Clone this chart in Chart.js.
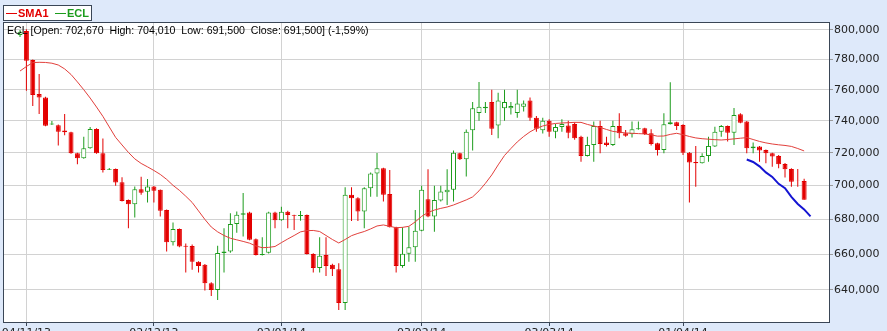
<!DOCTYPE html>
<html>
<head>
<meta charset="utf-8">
<script src="https://cdn.jsdelivr.net/npm/chart.js@4.4.0/dist/chart.umd.min.js"></script>
<style>
    html, body { margin: 0; padding: 0; background: #dee9fa; overflow: hidden; }
    #caixa { width: 887px; height: 345px; position: relative; }
</style>
</head>
<body>
<div id="caixa"><canvas id="grafico"></canvas></div>
<script>
const ticker = 'ECL';

const opens = [796.6, 799.3, 779.7, 757.2, 755.0, 737.6, 737.1, 733.8, 732.8, 719.7,
    716.6, 722.8, 734.8, 719.7, 709.6, 710.0, 702.0, 691.4, 688.8, 697.8,
    696.2, 699.4, 697.4, 685.5, 666.7, 674.4, 664.7, 664.6, 655.7, 653.9,
    643.7, 640.0, 660.6, 661.5, 677.3, 682.6, 684.0, 668.5, 659.5, 660.7,
    684.0, 679.5, 684.4, 682.5, 681.9, 682.5, 660.0, 652.1, 659.5, 653.9,
    651.4, 632.8, 694.4, 692.4, 684.5, 698.4, 707.2, 710.5, 694.9, 675.4,
    653.3, 660.2, 663.9, 673.4, 691.8, 681.6, 691.0, 696.0, 697.4, 719.7,
    716.0, 734.0, 745.0, 748.0, 752.0, 737.0, 748.0, 748.0, 745.0, 749.0,
    753.0, 742.0, 734.0, 740.0, 733.0, 736.0, 737.0, 738.0, 730.0, 718.0,
    724.8, 736.7, 726.3, 724.8, 736.7, 732.1, 731.5, 734.6, 735.3, 732.1,
    725.9, 721.7, 737.8, 739.1, 737.4, 720.0, 714.3, 713.5, 718.0, 723.8,
    733.1, 736.7, 732.5, 744.2, 739.5, 722.8, 723.8, 721.7, 719.7, 718.0,
    713.1, 710.0, 702.8, 702.67];
const highs = [800.0, 800.5, 780.0, 770.3, 755.5, 739.8, 737.6, 744.3, 733.1, 720.0,
    730.0, 736.0, 735.2, 728.9, 710.6, 710.3, 705.0, 691.7, 699.4, 705.3,
    703.9, 699.7, 697.6, 685.8, 678.1, 674.7, 666.0, 665.5, 656.0, 654.4,
    644.2, 664.7, 674.8, 683.6, 684.5, 695.5, 684.4, 668.8, 669.6, 684.4,
    684.4, 687.4, 685.0, 682.7, 684.9, 682.8, 660.5, 669.6, 669.6, 654.5,
    654.8, 698.9, 698.9, 693.0, 699.0, 707.8, 719.8, 710.8, 709.4, 675.7,
    675.4, 675.7, 685.5, 699.8, 709.8, 699.8, 699.8, 709.8, 721.3, 720.0,
    734.5, 752.0, 765.0, 752.0, 760.0, 758.0, 760.0, 752.0, 760.0, 753.0,
    755.0, 743.0, 742.0, 741.0, 738.0, 741.0, 740.0, 739.0, 730.5, 730.0,
    739.5, 740.1, 730.0, 740.1, 744.8, 734.2, 739.5, 739.5, 735.6, 734.6,
    726.2, 744.8, 764.9, 739.4, 737.8, 720.4, 724.2, 719.7, 730.0, 736.3,
    737.4, 737.0, 748.1, 744.8, 739.8, 726.3, 724.1, 722.0, 720.0, 718.6,
    713.6, 710.4, 710.0, 704.01];
const lows = [795.2, 759.4, 749.5, 744.3, 736.5, 737.3, 724.4, 730.9, 719.4, 712.9,
    716.3, 722.5, 719.4, 707.8, 709.4, 699.9, 690.5, 674.8, 681.1, 694.4,
    689.8, 689.8, 681.6, 661.4, 664.8, 663.9, 649.6, 651.1, 649.6, 639.6,
    636.7, 634.5, 649.6, 660.8, 672.2, 670.0, 667.8, 659.2, 659.2, 660.3,
    674.8, 679.2, 674.8, 673.8, 679.2, 659.7, 649.6, 649.6, 647.7, 647.7,
    629.1, 629.1, 679.0, 679.0, 674.8, 693.3, 693.3, 690.4, 675.2, 649.6,
    652.3, 655.7, 655.7, 673.1, 681.2, 672.7, 690.4, 688.4, 690.4, 715.5,
    705.4, 721.3, 740.0, 745.0, 731.0, 729.0, 740.0, 744.0, 742.0, 746.0,
    740.0, 733.0, 732.0, 730.0, 729.0, 733.0, 729.0, 728.0, 714.5, 717.6,
    714.5, 719.7, 723.8, 724.2, 729.0, 730.0, 729.4, 734.4, 731.1, 724.4,
    718.2, 719.7, 737.6, 734.2, 718.6, 689.8, 699.3, 713.3, 714.5, 723.5,
    730.0, 726.9, 724.8, 738.5, 719.7, 719.7, 714.5, 713.5, 711.4, 710.4,
    704.8, 699.3, 699.3, 691.5];
const closes = [798.8, 779.2, 756.6, 755.0, 736.9, 738.3, 733.0, 732.8, 719.7, 716.6,
    722.8, 734.8, 719.7, 709.4, 710.0, 701.8, 690.8, 688.8, 697.8, 695.7,
    699.4, 696.9, 685.0, 666.7, 674.4, 664.3, 664.2, 655.7, 653.3, 643.7,
    640.0, 660.6, 661.5, 677.3, 682.6, 683.6, 668.1, 659.5, 660.1, 684.0,
    679.5, 684.4, 682.5, 682.0, 682.5, 660.0, 652.1, 659.1, 653.3, 651.4,
    632.8, 694.4, 692.4, 684.5, 698.4, 707.2, 710.5, 694.4, 675.4, 653.3,
    660.2, 663.9, 673.4, 697.4, 681.6, 691.4, 696.4, 697.4, 720.0, 716.0,
    733.1, 748.0, 749.0, 749.0, 735.0, 753.0, 752.0, 749.5, 751.0, 751.0,
    742.0, 735.0, 740.0, 733.0, 736.0, 738.0, 732.5, 729.0, 718.0, 724.8,
    736.7, 725.4, 724.8, 736.7, 732.1, 730.6, 734.6, 735.3, 731.7, 725.4,
    721.7, 737.8, 739.1, 736.7, 720.0, 713.9, 713.5, 718.0, 724.2, 733.1,
    736.7, 732.5, 743.7, 738.8, 722.8, 723.8, 721.3, 719.7, 717.6, 712.9,
    709.9, 702.3, 702.67, 691.5];
const sma1 = [772.3, 775.3, 777.9, 778.1, 778.0, 777.5, 776.3, 773.7, 770.0, 765.1,
    760.0, 754.6, 748.8, 742.8, 736.1, 729.5, 724.8, 720.2, 716.2, 713.4,
    711.3, 709.1, 706.7, 703.7, 700.1, 697.1, 693.6, 689.9, 684.9, 679.9,
    675.5, 672.7, 670.6, 669.0, 668.1, 667.2, 666.2, 664.6, 663.6, 663.8,
    664.3, 666.5, 668.6, 670.6, 672.7, 673.4, 673.5, 672.9, 670.6, 668.3,
    666.3, 668.3, 670.5, 671.8, 672.9, 674.4, 676.1, 676.7, 675.9, 675.1,
    675.3, 675.9, 678.5, 681.7, 684.0, 685.4, 686.4, 687.2, 688.4, 689.9,
    691.4, 693.2, 696.8, 701.3, 706.4, 712.5, 718.3, 722.6, 726.7, 730.1,
    733.0, 735.2, 736.7, 737.7, 738.3, 738.6, 738.8, 739.0, 739.0, 737.7,
    736.7, 735.8, 734.5, 733.3, 732.8, 732.3, 732.1, 731.9, 731.7, 731.1,
    730.3, 730.4, 731.4, 732.1, 731.2, 730.1, 729.2, 728.7, 728.4, 728.1,
    727.9, 728.2, 728.6, 729.0, 729.4, 728.2, 727.0, 726.1, 725.4, 724.9,
    724.5, 723.9, 722.6, 721.1];
// projection, starts at candle 114
const projStart = 114;
const projection = [715.8, 714.3, 711.6, 707.9, 705.2, 701.0, 698.4, 693.2, 689.0, 685.8, 681.7];

const tickIdx = [1, 21, 41, 63, 83, 104];
const tickText = ['04/11/13', '02/12/13', '02/01/14', '03/02/14', '03/03/14', '01/04/14'];
const yTicks = [640, 660, 680, 700, 720, 740, 760, 780, 800];

const RED = '#e30000';
const GREEN = '#1c9c1c';

const fmt = (v, d) => v.toFixed(d).replace('.', ',');

const up = opens.map((o, i) => closes[i] >= o);
const wicks = lows.map((l, i) => ({ x: i, y: [l, highs[i]] }));
const bodies = opens.map((o, i) => ({ x: i, y: [o, closes[i]] }));
const smaPts = sma1.map((v, i) => ({ x: i, y: v }));
const projPts = projection.map((v, i) => ({ x: projStart + i, y: v }));

const last = opens.length - 1;
const change = (closes[last] / closes[last - 1] - 1) * 100;
const header = ticker + ' [Open: ' + fmt(opens[last], 3) + '  High: ' + fmt(highs[last], 3) +
    '  Low: ' + fmt(lows[last], 3) + '  Close: ' + fmt(closes[last], 3) + '] (' + fmt(change, 2) + '%)';

const moldura = {
    id: 'moldura',
    beforeDraw(chart) {
        const { ctx, chartArea: a } = chart;
        ctx.save();
        ctx.fillStyle = '#ffffff';
        ctx.fillRect(a.left, a.top, a.right - a.left, a.bottom - a.top);
        ctx.restore();
    },
    afterDraw(chart) {
        const { ctx, chartArea: a } = chart;
        ctx.save();
        ctx.strokeStyle = '#3a4656';
        ctx.lineWidth = 1;
        ctx.strokeRect(a.left + 0.5, a.top + 0.5, a.right - a.left, a.bottom - a.top);

        ctx.fillStyle = '#000000';
        ctx.font = '10.6px "Liberation Sans", Arial, sans-serif';
        ctx.textBaseline = 'middle';
        ctx.fillText(header, a.left + 4, a.top + 9);

        // legend box
        ctx.fillStyle = '#ffffff';
        ctx.fillRect(3, 5, 88, 15);
        ctx.strokeStyle = '#3a4656';
        ctx.strokeRect(3.5, 5.5, 88, 15);
        ctx.font = 'bold 11px "Liberation Sans", Arial, sans-serif';
        ctx.lineWidth = 1;
        ctx.strokeStyle = RED;
        ctx.beginPath(); ctx.moveTo(6, 13.5); ctx.lineTo(17, 13.5); ctx.stroke();
        ctx.fillStyle = RED;
        ctx.fillText('SMA1', 18, 13.5);
        ctx.strokeStyle = GREEN;
        ctx.beginPath(); ctx.moveTo(55, 13.5); ctx.lineTo(66, 13.5); ctx.stroke();
        ctx.fillStyle = GREEN;
        ctx.fillText(ticker, 67, 13.5);
        ctx.restore();
    }
};

const ctx = document.getElementById('grafico').getContext('2d');
new Chart(ctx, {
    type: 'bar',
    data: {
        datasets: [{
            type: 'line',
            label: 'Projection',
            data: projPts,
            borderColor: '#1414d2',
            borderWidth: 2,
            pointRadius: 0,
            order: 0
        }, {
            type: 'line',
            label: 'SMA1',
            data: smaPts,
            borderColor: '#e2403c',
            borderWidth: 1,
            pointRadius: 0,
            order: 1
        }, {
            label: ticker,
            data: bodies,
            backgroundColor: up.map(u => u ? '#ffffff' : RED),
            borderColor: up.map(u => u ? GREEN : RED),
            borderWidth: 1,
            borderSkipped: false,
            barThickness: 5,
            inflateAmount: 0,
            grouped: false,
            order: 2
        }, {
            label: 'wick',
            data: wicks,
            backgroundColor: up.map(u => u ? GREEN : RED),
            borderWidth: 0,
            barThickness: 1,
            inflateAmount: 0,
            grouped: false,
            order: 3
        }]
    },
    options: {
        responsive: true,
        maintainAspectRatio: false,
        animation: false,
        layout: { padding: { left: 3, top: 22, right: 0, bottom: 0 } },
        plugins: {
            legend: { display: false },
            tooltip: { enabled: false }
        },
        scales: {
            x: {
                type: 'linear',
                offset: false,
                min: -2.67,
                max: 126.9,
                afterBuildTicks: s => { s.ticks = tickIdx.map(v => ({ value: v })); },
                afterFit: s => { s.height = 23; },
                grid: { color: '#d2d2d2', tickColor: '#3a4656', tickLength: 4, offset: false },
                border: { display: false },
                ticks: {
                    padding: 1,
                    maxRotation: 0,
                    autoSkip: false,
                    color: '#222222',
                    font: { family: 'DejaVu Sans', size: 11 },
                    callback: v => tickText[tickIdx.indexOf(v)]
                }
            },
            y: {
                type: 'logarithmic',
                position: 'right',
                min: 622.6,
                max: 805.5,
                afterBuildTicks: s => { s.ticks = yTicks.map(v => ({ value: v })); },
                afterFit: s => { s.width = 58; },
                grid: { color: '#d2d2d2', tickColor: '#9a9a9a', tickLength: 4 },
                border: { display: false },
                ticks: {
                    padding: 1,
                    color: '#222222',
                    font: { family: 'DejaVu Sans', size: 11 },
                    callback: v => fmt(v, 3)
                }
            }
        }
    },
    plugins: [moldura]
});
</script>
</body>
</html>
